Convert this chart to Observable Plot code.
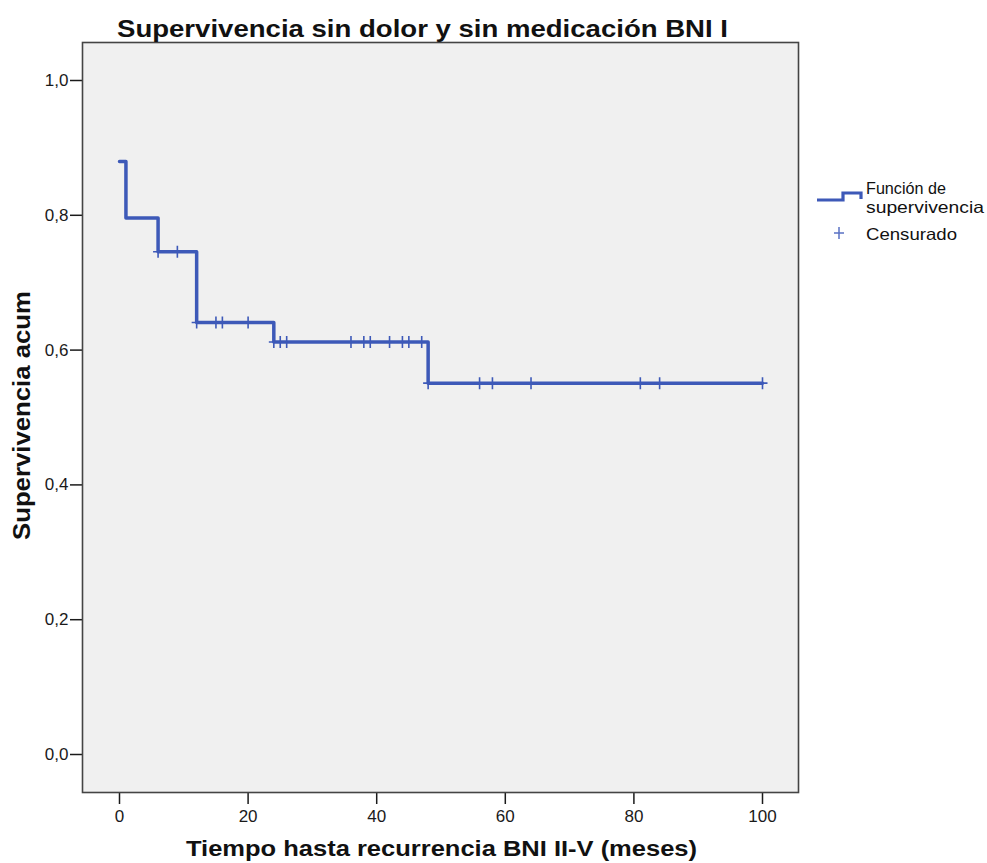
<!DOCTYPE html>
<html>
<head>
<meta charset="utf-8">
<script src="https://cdn.jsdelivr.net/npm/d3@7"></script>
<script src="https://cdn.jsdelivr.net/npm/@observablehq/plot@0.6"></script>
<style>
  html, body { margin: 0; padding: 0; background: #ffffff; }
  #wrap { position: relative; width: 987px; height: 863px; overflow: hidden; }
  #wrap svg { position: absolute; left: 0; top: 0; }
  .txt { font-family: "Liberation Sans", Arial, sans-serif; fill: #111; }
</style>
</head>
<body>
<div id="wrap"></div>
<script>
// ---- data ----
const titleText = "Supervivencia sin dolor y sin medicación BNI I";
const xLabelText = "Tiempo hasta recurrencia BNI II-V (meses)";
const yLabelText = "Supervivencia acum";
const legendLabels = ["Función de", "supervivencia", "Censurado"];

const stepTimes    = [0, 1, 6, 12, 24, 48, 100];
const stepSurvival = [0.880, 0.796, 0.746, 0.641, 0.612, 0.551, 0.551];
const censorTimes  = [6, 9, 12, 15, 16, 20, 24, 25, 26, 36, 38, 39, 42, 44, 45, 47, 48, 56, 58, 64, 81, 84, 100];

const xTicks = [0, 20, 40, 60, 80, 100];
const yTicks = [0, 0.2, 0.4, 0.6, 0.8, 1.0];

// ---- derived tables ----
const lineColor = "#3d59b8";
const steps = stepTimes.map((t, i) => ({t, s: stepSurvival[i]}));
function survivalAt(t) {
  let s = stepSurvival[0];
  for (let i = 0; i < stepTimes.length; i++) if (stepTimes[i] <= t) s = stepSurvival[i];
  return s;
}
const censors = censorTimes.map(t => ({t, s: survivalAt(t)}));

const censorSymbol = {
  draw(ctx) {
    ctx.moveTo(-5, 0); ctx.lineTo(5, 0);
    ctx.moveTo(0, -6); ctx.lineTo(0, 6);
  }
};

const chart = Plot.plot({
  width: 987,
  height: 863,
  marginLeft: 82,
  marginRight: 189,
  marginTop: 42,
  marginBottom: 71,
  style: {fontFamily: "Liberation Sans, Arial, sans-serif", fontSize: "16px", color: "#1a1a1a", background: "transparent"},
  x: {domain: [-37 / 6.43, 679 / 6.43]},
  y: {domain: [-38 / 674, 712 / 674]},
  marks: [
    Plot.frame({fill: "#f0f0f0"}),
    Plot.axisX({ticks: xTicks, tickSize: 12, tickPadding: 5, label: null, strokeWidth: 1.5, fontSize: 17, tickFormat: d => String(d)}),
    Plot.axisY({ticks: yTicks, tickSize: 12, tickPadding: 2, label: null, strokeWidth: 1.5, fontSize: 17, tickFormat: d => d.toFixed(1).replace(".", ",")}),
    Plot.line(steps, {x: "t", y: "s", curve: "step-after", stroke: lineColor, strokeWidth: 3.5}),
    Plot.dot(censors, {x: "t", y: "s", symbol: censorSymbol, stroke: lineColor, fill: "none", strokeWidth: 1.6}),
    Plot.frame({stroke: "#444", strokeWidth: 1.6})
  ]
});
document.getElementById("wrap").appendChild(chart);

// ---- overlay: title, axis titles, legend ----
const ns = "http://www.w3.org/2000/svg";
const ov = d3.select("#wrap").append("svg")
  .attr("width", 987).attr("height", 863)
  .attr("xmlns", ns);

ov.append("text").attr("class", "txt")
  .attr("x", 117).attr("y", 37)
  .attr("font-size", 24).attr("font-weight", "bold")
  .attr("textLength", 611).attr("lengthAdjust", "spacingAndGlyphs")
  .text(titleText);

ov.append("text").attr("class", "txt")
  .attr("x", 186).attr("y", 856)
  .attr("font-size", 22).attr("font-weight", "bold")
  .attr("textLength", 511).attr("lengthAdjust", "spacingAndGlyphs")
  .text(xLabelText);

ov.append("text").attr("class", "txt")
  .attr("transform", "translate(30,540) rotate(-90)")
  .attr("font-size", 23).attr("font-weight", "bold")
  .attr("textLength", 249).attr("lengthAdjust", "spacingAndGlyphs")
  .text(yLabelText);

// legend
ov.append("path")
  .attr("d", "M817,200 H843 V193 H861 V199")
  .attr("fill", "none").attr("stroke", lineColor).attr("stroke-width", 3.2);
ov.append("path")
  .attr("d", "M834,233 H844 M839,227 V239")
  .attr("fill", "none").attr("stroke", "#5a72c4").attr("stroke-width", 1.5);

const legendY = [194, 213, 240];
const legendW = [80, 118, 91];
legendLabels.forEach((lab, i) => {
  ov.append("text").attr("class", "txt")
    .attr("x", 866).attr("y", legendY[i])
    .attr("font-size", 16.5)
    .attr("textLength", legendW[i]).attr("lengthAdjust", "spacingAndGlyphs")
    .text(lab);
});
</script>
</body>
</html>
